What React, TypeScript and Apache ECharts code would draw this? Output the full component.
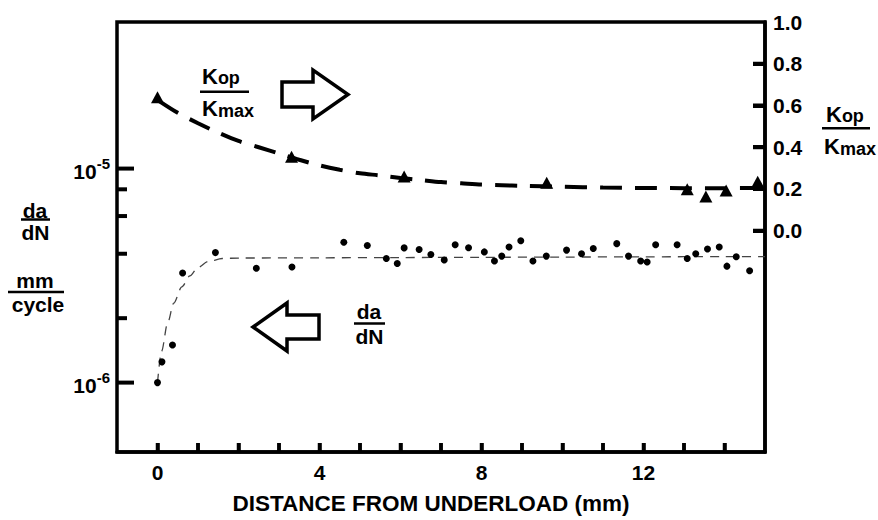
import React, { useEffect, useRef } from "react";
import * as echarts from "echarts";

const FONT = "'Liberation Sans', Arial, Helvetica, sans-serif";

// ---- axes ----
const xMin = -1;
const xMax = 15;
const xTickValues = [0, 1, 2, 3, 4, 5, 6, 7, 8, 9, 10, 11, 12, 13, 14];
const xTickLabels = [0, 4, 8, 12];
const xTitle = "DISTANCE FROM UNDERLOAD (mm)";

const yLogMin = 4.74e-7;
const yLogMax = 4.84e-5;
const leftMajorTicks = [1e-6, 1e-5];
const leftMinorTicks = [2e-6, 4e-6, 6e-6, 8e-6];

const yRightMin = -1.06;
const yRightMax = 1.0;
const rightTicks = [0, 0.2, 0.4, 0.6, 0.8];
const rightLabels = [0, 0.2, 0.4, 0.6, 0.8, 1.0];

// ---- da/dN data (mm/cycle) ----
const dadnX = [0, 0.11, 0.37, 0.62, 1.43, 2.44, 3.32, 4.6, 5.18, 5.65, 5.92, 6.09, 6.46, 6.75, 7.08, 7.35, 7.68, 8.07, 8.32, 8.5, 8.68, 8.97, 9.27, 9.6, 10.1, 10.47, 10.76, 11.34, 11.63, 11.93, 12.09, 12.3, 12.83, 13.08, 13.29, 13.58, 13.87, 14.06, 14.29, 14.62];
const dadnY = [1.0e-6, 1.25e-6, 1.5e-6, 3.25e-6, 4.05e-6, 3.42e-6, 3.47e-6, 4.53e-6, 4.37e-6, 3.8e-6, 3.6e-6, 4.26e-6, 4.19e-6, 3.97e-6, 3.74e-6, 4.41e-6, 4.27e-6, 4.08e-6, 3.7e-6, 3.9e-6, 4.3e-6, 4.6e-6, 3.7e-6, 3.9e-6, 4.16e-6, 4.0e-6, 4.23e-6, 4.46e-6, 3.9e-6, 3.7e-6, 3.66e-6, 4.41e-6, 4.41e-6, 3.8e-6, 4.0e-6, 4.21e-6, 4.3e-6, 3.5e-6, 3.87e-6, 3.33e-6];

// thin dashed trend for da/dN
const dadnFitX = [0, 0.1, 0.25, 0.4, 0.6, 0.8, 1.0, 1.25, 1.6, 2, 4, 6, 8, 10, 12, 14, 15];
const dadnFitY = [1.0e-6, 1.4e-6, 1.9e-6, 2.35e-6, 2.8e-6, 3.15e-6, 3.45e-6, 3.68e-6, 3.8e-6, 3.82e-6, 3.83e-6, 3.84e-6, 3.85e-6, 3.86e-6, 3.87e-6, 3.88e-6, 3.88e-6];

// ---- Kop/Kmax data ----
const kopX = [0, 3.31, 6.09, 9.61, 13.08, 13.54, 14.04, 14.82];
const kopY = [0.64, 0.355, 0.26, 0.23, 0.199, 0.164, 0.193, 0.235];

// thick dashed trend for Kop/Kmax
const kopFitX = [0.05, 0.5, 1, 1.5, 2, 2.5, 3, 3.5, 4, 4.5, 5, 5.5, 6, 6.5, 7, 7.5, 8, 8.5, 9, 10, 11, 12, 13, 14, 15];
const kopFitY = [0.62, 0.565, 0.515, 0.47, 0.43, 0.4, 0.37, 0.34, 0.313, 0.292, 0.275, 0.265, 0.253, 0.243, 0.233, 0.227, 0.221, 0.218, 0.215, 0.211, 0.207, 0.205, 0.204, 0.204, 0.205];

const zip = (xs: number[], ys: number[]) => xs.map((x, i) => [x, ys[i]]);

const T = (text: string, x: number, y: number, size: number, align = "center", rich?: any) => ({
  type: "text",
  z: 100,
  style: {
    text,
    x,
    y,
    fill: "#000",
    fontSize: size,
    fontWeight: "bold",
    fontFamily: FONT,
    align,
    verticalAlign: "middle",
    textAlign: align,
    textVerticalAlign: "middle",
    rich,
  },
});

const L = (x1: number, x2: number, y: number, w = 2.5) => ({
  type: "line",
  z: 100,
  shape: { x1, y1: y, x2, y2: y },
  style: { stroke: "#000", lineWidth: w },
});

const kRich = {
  k: { fontSize: 22, lineHeight: 22, fontWeight: "bold", fontFamily: FONT, fill: "#000", color: "#000" },
  s: { fontSize: 18, lineHeight: 14, verticalAlign: "bottom", fontWeight: "bold", fontFamily: FONT, fill: "#000", color: "#000" },
};

const arrowRight = {
  type: "polygon",
  z: 100,
  shape: { points: [[282, 82], [313, 82], [313, 70], [348, 94.5], [313, 119], [313, 107], [282, 107]] },
  style: { fill: "#fff", stroke: "#000", lineWidth: 3.5, lineJoin: "miter" },
};
const arrowLeft = {
  type: "polygon",
  z: 100,
  shape: { points: [[319, 315], [287, 315], [287, 303], [253, 327], [287, 351], [287, 339], [319, 339]] },
  style: { fill: "#fff", stroke: "#000", lineWidth: 3.5, lineJoin: "miter" },
};

// ticks drawn through the axes: [x, y, length, vertical?]
const tickRender = (params: any, api: any) => {
  const p = api.coord([api.value(0), api.value(1)]);
  const len = api.value(2);
  const vertical = api.value(3) === 1;
  return {
    type: "line",
    shape: vertical
      ? { x1: p[0], y1: p[1], x2: p[0], y2: p[1] - len }
      : { x1: p[0], y1: p[1], x2: p[0] + len, y2: p[1] },
    style: { stroke: "#000", lineWidth: vertical ? 3.5 : 4 },
  };
};

const option: any = {
  animation: false,
  backgroundColor: "#fff",
  grid: { left: 117, right: 113, top: 22, bottom: 64, show: true, borderColor: "#000", borderWidth: 3.5, backgroundColor: "transparent" },
  xAxis: {
    type: "value",
    min: xMin,
    max: xMax,
    interval: 1,
    position: "bottom",
    axisLine: { show: true, onZero: false, lineStyle: { color: "#000", width: 3.5 } },
    splitLine: { show: false },
    axisTick: { show: true, inside: true, length: 9, customValues: xTickValues, lineStyle: { color: "#000", width: 3.5 } },
    axisLabel: {
      customValues: xTickLabels,
      formatter: (v: number) => (xTickLabels.includes(v) ? String(v) : ""),
      fontSize: 21,
      fontWeight: "bold",
      fontFamily: FONT,
      color: "#000",
      margin: 10,
    },
    name: xTitle,
    nameLocation: "middle",
    nameGap: 40,
    nameTextStyle: { fontSize: 22.5, fontWeight: "bold", fontFamily: FONT, color: "#000", padding: [0, 20, 0, 0] },
  },
  yAxis: [
    {
      type: "log",
      logBase: 10,
      min: yLogMin,
      max: yLogMax,
      position: "left",
      axisLine: { show: false, onZero: false },
      axisTick: { show: false },
      minorTick: { show: false },
      splitLine: { show: false },
      axisLabel: {
        margin: 7,
        formatter: (v: number) => {
          const e = Math.log10(v);
          const r = Math.round(e);
          if (Math.abs(e - r) > 1e-6) return "";
          return `{b|10}{s|${r}}`;
        },
        rich: {
          b: { fontSize: 21, lineHeight: 26, fontWeight: "bold", fontFamily: FONT, color: "#000", verticalAlign: "bottom" },
          s: { fontSize: 15, lineHeight: 14, fontWeight: "bold", fontFamily: FONT, color: "#000", verticalAlign: "top" },
        },
      },
    },
    {
      type: "value",
      min: yRightMin,
      max: yRightMax,
      splitNumber: 10,
      position: "right",
      axisLine: { show: true, onZero: false, lineStyle: { color: "#000", width: 3.5 } },
      axisTick: { show: true, inside: true, length: 12, customValues: rightTicks, lineStyle: { color: "#000", width: 4 } },
      splitLine: { show: false },
      axisLabel: {
        margin: 8,
        customValues: rightLabels,
        formatter: (v: number) => (v > -1e-9 ? v.toFixed(1) : ""),
        fontSize: 21,
        fontWeight: "bold",
        fontFamily: FONT,
        color: "#000",
      },
    },
  ],
  series: [
    {
      type: "line",
      yAxisIndex: 0,
      data: zip(dadnFitX, dadnFitY),
      symbol: "none",
      smooth: 0.3,
      smoothMonotone: "x",
      lineStyle: { color: "#444", width: 1.3, type: [9, 7] },
      z: 2,
    },
    {
      type: "scatter",
      yAxisIndex: 0,
      data: zip(dadnX, dadnY),
      symbol: "circle",
      symbolSize: 7,
      itemStyle: { color: "#000", opacity: 1 },
      z: 3,
    },
    {
      type: "line",
      yAxisIndex: 1,
      data: zip(kopFitX, kopFitY),
      symbol: "none",
      smooth: 0.3,
      lineStyle: { color: "#000", width: 4, type: [22, 13] },
      z: 2,
    },
    {
      type: "scatter",
      yAxisIndex: 1,
      data: zip(kopX, kopY),
      symbol: "triangle",
      symbolSize: [13, 12],
      itemStyle: { color: "#000", opacity: 1 },
      z: 3,
    },
    {
      type: "custom",
      yAxisIndex: 0,
      silent: true,
      clip: false,
      encode: { x: 0, y: 1 },
      data: [
        ...leftMajorTicks.map((v) => [xMin, v, 17, 0]),
        ...leftMinorTicks.map((v) => [xMin, v, 10, 0]),
        ...xTickValues.map((v) => [v, yLogMin, 9, 1]),
      ],
      renderItem: tickRender,
      z: 5,
    },
    {
      type: "custom",
      yAxisIndex: 1,
      silent: true,
      clip: false,
      encode: { x: 0, y: 1 },
      data: rightTicks.map((v) => [xMax, v, -12, 0]),
      renderItem: tickRender,
      z: 5,
    },
  ],
  graphic: [
    // left axis title: da/dN , mm/cycle
    T("da", 35, 210, 21),
    L(21, 50, 219.5),
    T("dN", 35.5, 232, 21),
    T("mm", 35, 280, 21),
    L(8, 64, 292),
    T("cycle", 38, 304, 21),
    // right axis title Kop/Kmax
    T("{k|K}{s|op}", 826, 114, 22, "left", kRich),
    L(822, 870, 128.3),
    T("{k|K}{s|max}", 824, 146.5, 22, "left", kRich),
    // inner annotation Kop/Kmax with arrow
    T("{k|K}{s|op}", 202, 76, 22, "left", kRich),
    L(200, 249, 91.7),
    T("{k|K}{s|max}", 202, 108.5, 22, "left", kRich),
    arrowRight,
    // inner annotation da/dN with arrow
    arrowLeft,
    T("da", 369, 311, 21),
    L(354, 385, 323.5),
    T("dN", 369.5, 336, 21),
  ],
};

export default function App() {
  const ref = useRef<HTMLDivElement>(null);
  useEffect(() => {
    const chart = echarts.init(ref.current as HTMLDivElement, undefined, { renderer: "svg" });
    chart.setOption(option);
    return () => chart.dispose();
  }, []);
  return (
    <div
      ref={ref}
      style={{ position: "fixed", left: 0, top: 0, width: 878, height: 520, background: "#fff" }}
    />
  );
}
